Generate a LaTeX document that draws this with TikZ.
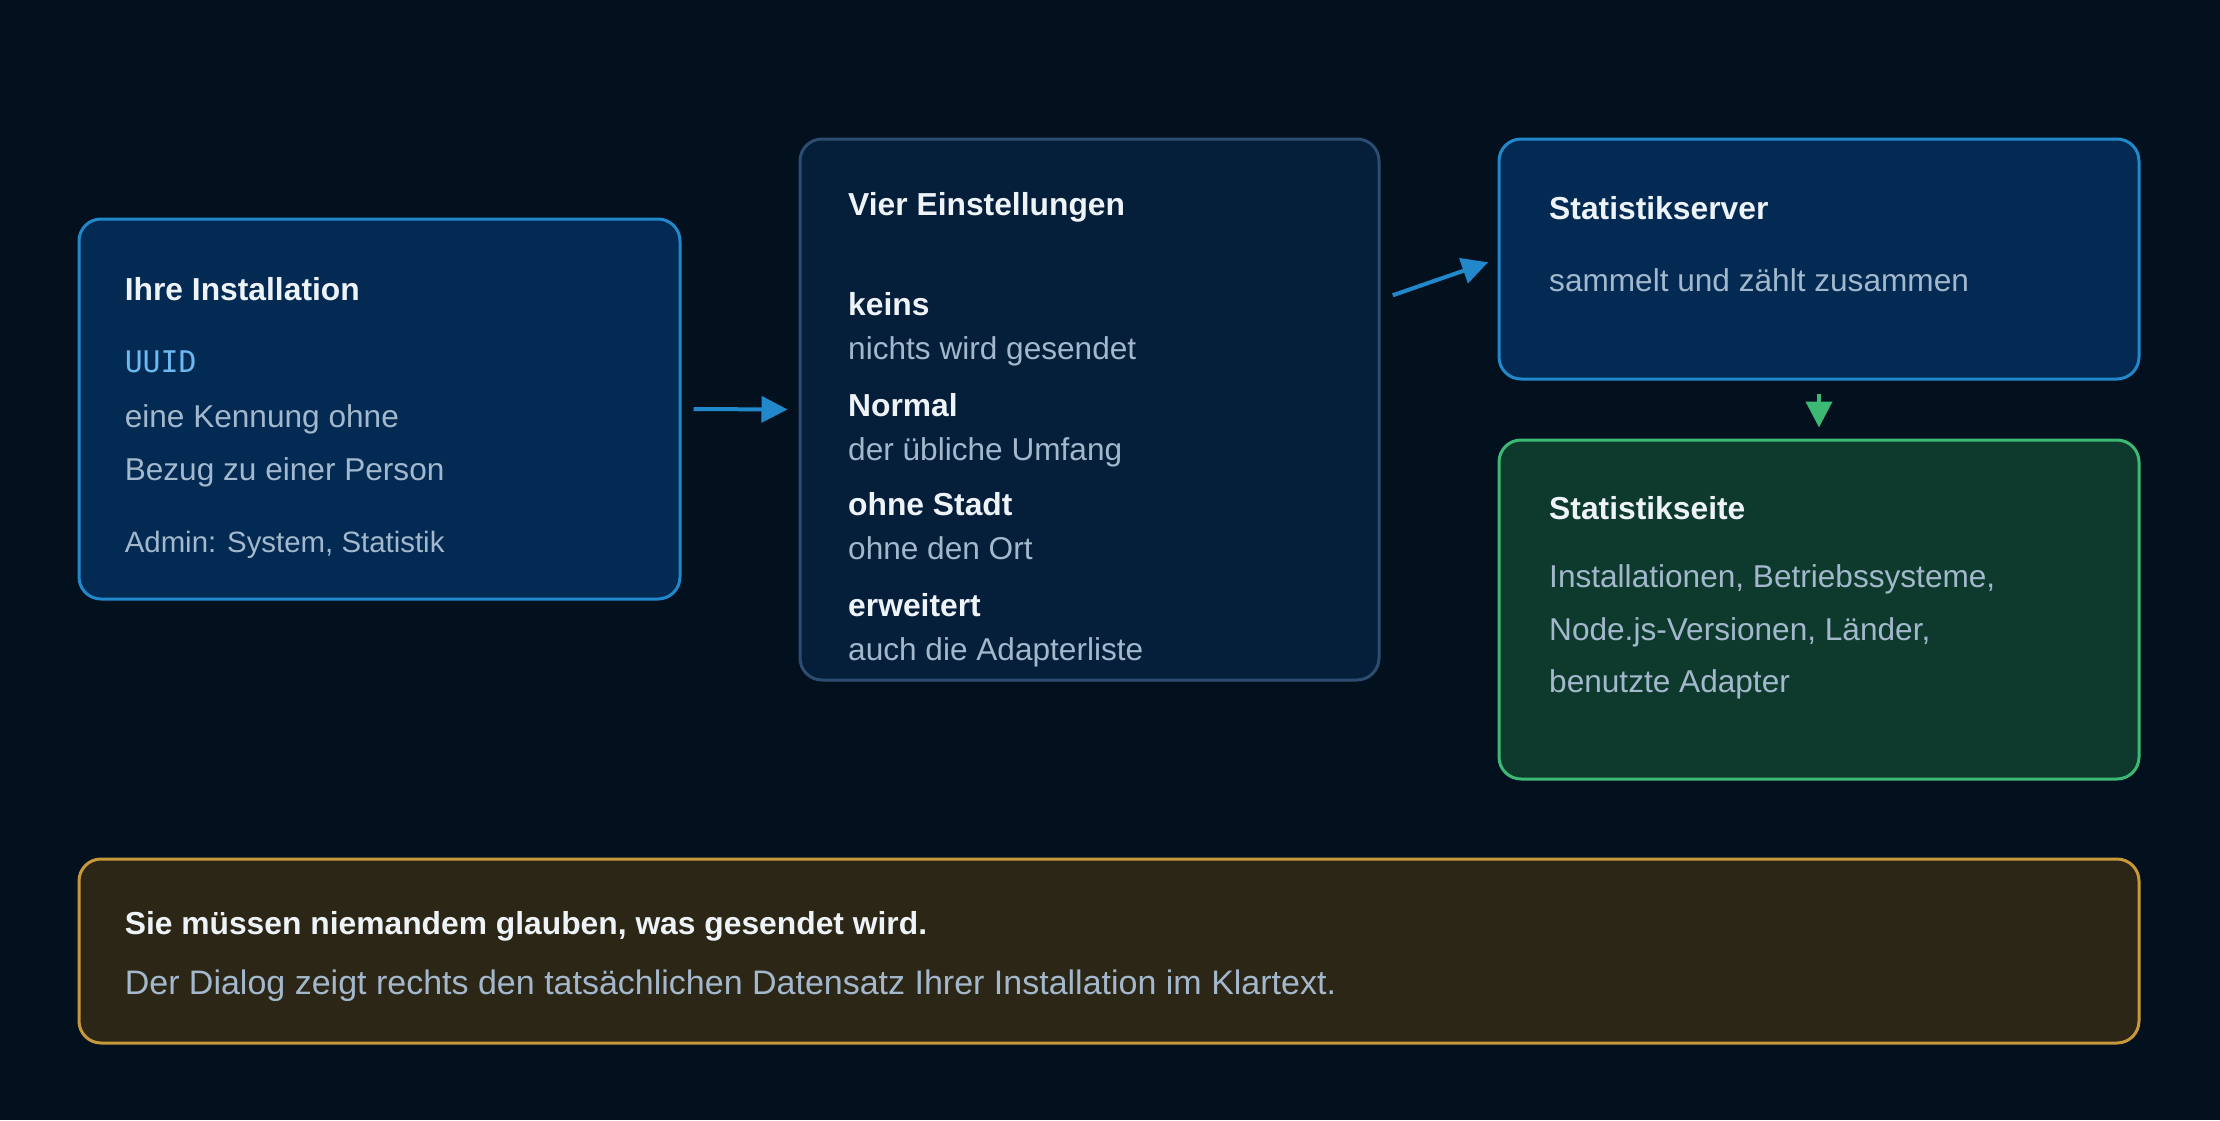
\documentclass[tikz,border=0pt]{standalone}
\usepackage{fontspec}
\setmainfont{Liberation Sans}
\setmonofont{DejaVu Sans Mono}
\usetikzlibrary{arrows.meta}

\definecolor{bgcol}{HTML}{03111F}
\definecolor{titlefg}{HTML}{EEF3F8}
\definecolor{bodyfg}{HTML}{A3B8CC}
\definecolor{uuidfg}{HTML}{6CB8F0}
\definecolor{bluefill}{HTML}{032A52}
\definecolor{blueline}{HTML}{2188CC}
\definecolor{darkfill}{HTML}{051E3A}
\definecolor{darkline}{HTML}{2C4D70}
\definecolor{greenfill}{HTML}{0E3A2D}
\definecolor{greenline}{HTML}{3CBA74}
\definecolor{goldfill}{HTML}{2C2616}
\definecolor{goldline}{HTML}{C8993A}

\tikzset{
    box/.style={draw, line width=3pt, rounded corners=22pt, inner sep=0pt},
    head/.style={anchor=base west, inner sep=0pt, text=titlefg,
      font=\fontsize{31.8}{38}\selectfont\bfseries},
    body/.style={anchor=base west, inner sep=0pt, text=bodyfg,
      font=\fontsize{31.6}{38}\selectfont},
    small/.style={body, font=\fontsize{29.4}{35}\selectfont},
    link/.style={line width=4pt, -{Triangle[length=26pt,width=26pt]}},
}

\begin{document}
\begin{tikzpicture}[x=1pt,y=-1pt]
    \fill[bgcol] (0,0) rectangle (2220,1120);
    \useasboundingbox (0,0) rectangle (2220,1120);

    % boxes
    \node[box, draw=blueline, fill=bluefill, minimum width=601pt, minimum height=380pt]
      (inst) at (379.5,409) {};
    \node[box, draw=darkline, fill=darkfill, minimum width=579pt, minimum height=541pt]
      (modes) at (1089.5,409.5) {};
    \node[box, draw=blueline, fill=bluefill, minimum width=640pt, minimum height=240pt]
      (server) at (1819,259) {};
    \node[box, draw=greenline, fill=greenfill, minimum width=640pt, minimum height=339pt]
      (page) at (1819,609.5) {};
    \node[box, draw=goldline, fill=goldfill, minimum width=2060pt, minimum height=184pt]
      (note) at (1109,951) {};

    % Ihre Installation
    \node[head] (inst-title) at (124.6,300) {Ihre Installation};
    \node[body, text=uuidfg, font=\fontsize{29.8}{36}\ttfamily] (inst-uuid) at (124.6,372) {UUID};
    \node[body] (inst-l1) at (124.6,427.6) {eine Kennung ohne};
    \node[body] (inst-l2) at (124.6,480) {Bezug zu einer Person};
    \node[small] (inst-admin) at (124.6,552) {Admin: System, Statistik};

    % Vier Einstellungen
    \node[head] (modes-title) at (848,215) {Vier Einstellungen};
    \node[head] (m1) at (848,315.7) {keins};
    \node[body] (m1-text) at (848,359.6) {nichts wird gesendet};
    \node[head] (m2) at (848,416) {Normal};
    \node[body] (m2-text) at (848,460) {der übliche Umfang};
    \node[head] (m3) at (848,515) {ohne Stadt};
    \node[body] (m3-text) at (848,559) {ohne den Ort};
    \node[head] (m4) at (848,616) {erweitert};
    \node[body] (m4-text) at (848,660) {auch die Adapterliste};

    % Statistikserver
    \node[head] (server-title) at (1549,219.5) {Statistikserver};
    \node[body] (server-text) at (1549,291.6) {sammelt und zählt zusammen};

    % Statistikseite
    \node[head] (page-title) at (1549,519.6) {Statistikseite};
    \node[body] (page-l1) at (1549,587.6) {Installationen, Betriebssysteme,};
    \node[body] (page-l2) at (1549,640) {Node.js-Versionen, Länder,};
    \node[body] (page-l3) at (1549,692.3) {benutzte Adapter};

    % Hinweis
    \node[head] (note-title) at (124.6,934.4) {Sie müssen niemandem glauben, was gesendet wird.};
    \node[body, font=\fontsize{34}{40}\selectfont] (note-text) at (124.6,994)
      {Der Dialog zeigt rechts den tatsächlichen Datensatz Ihrer Installation im Klartext.};

    % connectors
    \draw[link, blueline, shorten <=12pt, shorten >=11pt] (inst.east) -- (modes.west);
    \draw[link, blueline, shorten <=13pt, shorten >=10pt] ([yshift=110pt]modes.east) -- (server.west);
    \draw[link, greenline, shorten <=13pt, shorten >=11pt] (server.south) -- (page.north);
\end{tikzpicture}
\end{document}
